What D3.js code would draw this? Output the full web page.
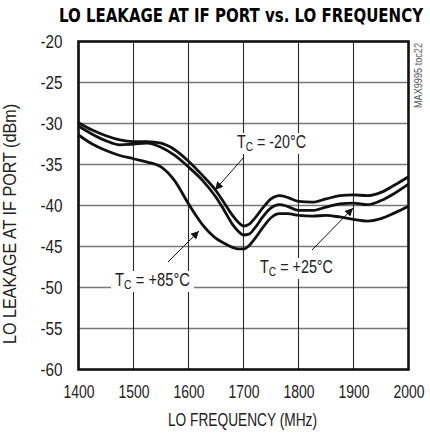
<!DOCTYPE html>
<html><head><meta charset="utf-8">
<script src="https://cdn.jsdelivr.net/npm/d3@7"></script>
<style>body{margin:0;background:#fff}svg{display:block}</style>
</head><body><svg id="c" width="430" height="434"></svg>
<script>
const freqs   = [1400,1425,1450,1475,1500,1525,1550,1575,1600,1625,1650,1665,1680,1690,1700,1710,1720,1735,1750,1765,1780,1800,1825,1850,1875,1900,1925,1950,1975,2000];
const leakM20 = [-29.9,-30.8,-31.5,-32.0,-32.2,-32.2,-32.4,-33.2,-34.6,-36.3,-38.2,-39.7,-41.2,-42.0,-42.5,-42.3,-41.6,-40.3,-39.2,-38.8,-39.0,-39.5,-39.6,-39.2,-38.8,-38.7,-38.8,-38.4,-37.5,-36.5];
const leakP25 = [-30.3,-31.3,-32.1,-32.6,-32.5,-32.4,-32.9,-33.9,-35.3,-36.9,-39.0,-40.6,-42.3,-43.1,-43.6,-43.5,-42.8,-41.4,-40.3,-39.9,-40.1,-40.6,-40.6,-40.2,-39.8,-39.7,-39.9,-39.4,-38.5,-37.4];
const leakP85 = [-31.4,-32.5,-33.3,-33.9,-34.3,-34.7,-35.3,-37.0,-39.8,-42.3,-44.0,-44.6,-45.1,-45.3,-45.3,-44.9,-44.1,-42.7,-41.5,-41.0,-41.0,-41.2,-41.3,-41.2,-41.4,-41.7,-41.9,-41.6,-40.9,-40.1];
const xTicks = [1400,1500,1600,1700,1800,1900,2000];
const yTicks = [-20,-25,-30,-35,-40,-45,-50,-55,-60];
const seriesNames = ["-20", "+85", "+25"];

const svg = d3.select("#c");
const L = 78.5, R = 408.5, T = 41.5, B = 369.5;
const x = d3.scaleLinear().domain([1400, 2000]).range([L, R]);
const y = d3.scaleLinear().domain([-60, -20]).range([B, T]);
const font = "'Liberation Sans',Arial,sans-serif";
const bold = "'DejaVu Sans Condensed','Liberation Sans',sans-serif";

// title
svg.append("text").attr("x", 59).attr("y", 21.5)
  .attr("font-family", bold).attr("font-weight", "bold").attr("font-size", 20)
  .attr("textLength", 364).attr("lengthAdjust", "spacingAndGlyphs")
  .text("LO LEAKAGE AT IF PORT vs. LO FREQUENCY");

// grid: one path per direction, spanning the whole plot box
const hp = d3.path();
hp.moveTo(L, T); hp.moveTo(R, B);
yTicks.slice(1, -1).forEach(v => { hp.moveTo(L, y(v)); hp.lineTo(R, y(v)); });
svg.append("path").attr("d", hp.toString() + `M${L},${T}L${L},${B}`)
  .attr("fill", "none").attr("stroke", "#777").attr("stroke-width", 1.5);
const vp = d3.path();
xTicks.slice(1, -1).forEach(v => { vp.moveTo(x(v), T); vp.lineTo(x(v), B); });
svg.append("path").attr("d", vp.toString() + `M${L},${T}L${R},${T}`)
  .attr("fill", "none").attr("stroke", "#2a2a2a").attr("stroke-width", 1.1);

// axes (labels only)
const xa = svg.append("g").attr("transform", `translate(0,${B})`)
  .call(d3.axisBottom(x).tickValues(xTicks).tickSize(0).tickPadding(0).tickFormat(d3.format("d")));
xa.select(".domain").remove();
xa.selectAll("text").attr("y", 28).attr("dy", 0).attr("font-family", font).attr("font-size", 18)
  .attr("fill", "#222").attr("textLength", 31).attr("lengthAdjust", "spacingAndGlyphs");
const ya = svg.append("g").attr("transform", `translate(${L},0)`)
  .call(d3.axisLeft(y).tickValues(yTicks).tickSize(0).tickPadding(0).tickFormat(d => String(d)));
ya.select(".domain").remove();
ya.selectAll("text").attr("x", -16).attr("dy", "0.36em").attr("font-family", font).attr("font-size", 18)
  .attr("fill", "#222").attr("textLength", 22).attr("lengthAdjust", "spacingAndGlyphs");

// axis titles
svg.append("text").attr("x", 242.5).attr("y", 426).attr("text-anchor", "middle")
  .attr("font-family", font).attr("font-size", 17.5).attr("fill", "#222")
  .attr("textLength", 149).attr("lengthAdjust", "spacingAndGlyphs").text("LO FREQUENCY (MHz)");
svg.append("text").attr("transform", "translate(16,224) rotate(-90)").attr("text-anchor", "middle")
  .attr("font-family", font).attr("font-size", 17.5).attr("fill", "#222")
  .attr("textLength", 240).attr("lengthAdjust", "spacingAndGlyphs").text("LO LEAKAGE AT IF PORT (dBm)");

// side note
svg.append("text").attr("transform", "translate(421.5,108) rotate(-90)")
  .attr("font-family", font).attr("font-size", 11).attr("fill", "#555")
  .attr("textLength", 65).attr("lengthAdjust", "spacingAndGlyphs").text("MAX9995 toc22");

// curves
const line = d3.line().x((d, i) => x(freqs[i])).y(d => y(d)).curve(d3.curveMonotoneX);
[leakM20, leakP85, leakP25].forEach(s => {
  svg.append("path").datum(s).attr("d", line).attr("fill", "none")
    .attr("stroke", "#111").attr("stroke-width", 2.8);
});

// border
svg.append("rect").attr("x", L).attr("y", T).attr("width", R - L).attr("height", B - T)
  .attr("fill", "none").attr("stroke", "#111").attr("stroke-width", 2.6);

// labels with arrows
svg.append("defs").append("marker").attr("id", "ah").attr("viewBox", "0 0 10 10")
  .attr("refX", 10).attr("refY", 5).attr("markerWidth", 11).attr("markerHeight", 8)
  .attr("markerUnits", "userSpaceOnUse").attr("orient", "auto")
  .append("path").attr("d", "M0,0 L10,5 L0,10 Z").attr("fill", "#111");

function label(name, tx, ty, tw, x1, y1, x2, y2) {
  const bg = svg.append("rect").attr("fill", "#fff");
  const t = svg.append("text").attr("font-family", font)
    .attr("font-size", 17.5).attr("fill", "#222");
  t.append("tspan").text("T");
  t.append("tspan").attr("font-size", 12.5).attr("dy", 3).text("C");
  t.append("tspan").attr("dy", -3).text(" = " + name + "°C");
  const w = t.node().getComputedTextLength() || tw;
  const sx = tw / w;
  t.attr("transform", `translate(${tx},${ty}) scale(${sx},1)`);
  bg.attr("x", tx - 4).attr("y", ty - 15).attr("width", tw + 8).attr("height", 21);
  svg.append("line").attr("x1", x1).attr("y1", y1).attr("x2", x2).attr("y2", y2)
    .attr("stroke", "#111").attr("stroke-width", 1).attr("marker-end", "url(#ah)");
}
label(seriesNames[0], 237, 148, 69, 244, 157, 215, 190);
label(seriesNames[1], 115, 286, 75, 168, 262, 199, 231);
label(seriesNames[2], 260, 273, 73, 312, 250, 353, 208);
</script></body></html>
